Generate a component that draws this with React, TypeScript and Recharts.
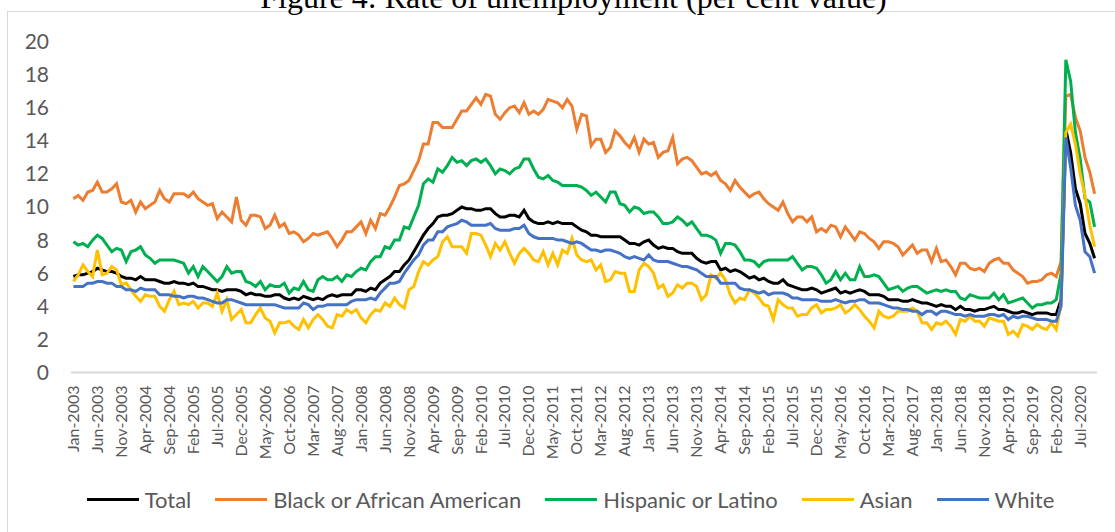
import React from 'react';
import { LineChart, Line, XAxis, YAxis, Legend } from 'recharts';

const MONTHS = ['Jan', 'Feb', 'Mar', 'Apr', 'May', 'Jun', 'Jul', 'Aug', 'Sep', 'Oct', 'Nov', 'Dec'];
const FIRST_YEAR = 2003;
const Y_TICKS = [0, 2, 4, 6, 8, 10, 12, 14, 16, 18, 20];

// monthly rates, Jan-2003 .. Oct-2020
const total = [
  5.8, 5.9, 5.9, 6.0, 6.1, 6.3, 6.2, 6.1, 6.1, 6.0, 5.8, 5.7,
  5.7, 5.6, 5.8, 5.6, 5.6, 5.6, 5.5, 5.4, 5.4, 5.5, 5.4, 5.4,
  5.3, 5.4, 5.2, 5.2, 5.1, 5.0, 5.0, 4.9, 5.0, 5.0, 5.0, 4.9,
  4.7, 4.8, 4.7, 4.7, 4.6, 4.6, 4.7, 4.7, 4.5, 4.4, 4.5, 4.4,
  4.6, 4.5, 4.4, 4.5, 4.4, 4.6, 4.7, 4.6, 4.7, 4.7, 4.7, 5.0,
  5.0, 4.9, 5.1, 5.0, 5.4, 5.6, 5.8, 6.1, 6.1, 6.5, 6.8, 7.3,
  7.8, 8.3, 8.7, 9.0, 9.4, 9.5, 9.5, 9.6, 9.8, 10.0, 9.9, 9.9,
  9.8, 9.8, 9.9, 9.9, 9.6, 9.4, 9.4, 9.5, 9.5, 9.4, 9.8, 9.3,
  9.1, 9.0, 9.0, 9.1, 9.0, 9.1, 9.0, 9.0, 9.0, 8.8, 8.6, 8.5,
  8.3, 8.3, 8.2, 8.2, 8.2, 8.2, 8.2, 8.0, 7.8, 7.8, 7.7, 7.9,
  8.0, 7.7, 7.5, 7.6, 7.5, 7.5, 7.3, 7.2, 7.2, 7.2, 6.9, 6.7,
  6.6, 6.7, 6.7, 6.2, 6.3, 6.1, 6.2, 6.1, 5.9, 5.7, 5.8, 5.6,
  5.7, 5.5, 5.4, 5.4, 5.6, 5.3, 5.2, 5.1, 5.0, 5.0, 5.1, 5.0,
  4.8, 4.9, 5.0, 5.1, 4.8, 4.9, 4.8, 4.9, 5.0, 4.9, 4.7, 4.7,
  4.7, 4.6, 4.4, 4.4, 4.4, 4.3, 4.3, 4.4, 4.3, 4.2, 4.2, 4.1,
  4.0, 4.1, 4.0, 4.0, 3.8, 4.0, 3.8, 3.8, 3.7, 3.8, 3.8, 3.9,
  4.0, 3.8, 3.8, 3.7, 3.6, 3.6, 3.7, 3.6, 3.5, 3.6, 3.6, 3.6,
  3.5, 3.5, 4.4, 14.7, 13.3, 11.1, 10.2, 8.4, 7.8, 6.9,
];

const black = [
  10.5, 10.7, 10.4, 10.9, 11.0, 11.5, 10.9, 10.9, 11.1, 11.4, 10.3, 10.2,
  10.4, 9.7, 10.3, 9.9, 10.1, 10.3, 11.0, 10.5, 10.3, 10.8, 10.8, 10.8,
  10.6, 10.9, 10.5, 10.3, 10.1, 10.2, 9.3, 9.7, 9.4, 9.1, 10.6, 9.2,
  8.9, 9.5, 9.5, 9.4, 8.7, 8.9, 9.5, 8.8, 9.0, 8.4, 8.5, 8.3,
  7.9, 8.1, 8.4, 8.3, 8.4, 8.5, 8.1, 7.6, 8.0, 8.5, 8.5, 8.8,
  9.1, 8.4, 9.2, 8.7, 9.6, 9.5, 10.0, 10.6, 11.3, 11.4, 11.6, 12.2,
  12.8, 13.8, 13.8, 15.1, 15.1, 14.8, 14.8, 14.8, 15.3, 15.8, 15.8, 16.2,
  16.6, 16.2, 16.8, 16.7, 15.6, 15.3, 15.7, 16.0, 16.1, 15.7, 16.3, 15.6,
  15.8, 15.6, 15.9, 16.5, 16.4, 16.3, 16.0, 16.5, 16.1, 14.7, 15.6, 15.5,
  13.7, 14.1, 14.1, 13.3, 13.6, 14.6, 14.3, 13.9, 13.6, 14.2, 13.3, 14.1,
  13.8, 13.9, 13.0, 13.3, 13.4, 14.2, 12.6, 12.9, 13.0, 12.8, 12.4, 12.0,
  12.1, 11.9, 12.1, 11.6, 11.4, 11.0, 11.6, 11.2, 10.9, 10.6, 10.8, 10.9,
  10.5, 10.2, 10.0, 9.8, 10.3, 9.6, 9.1, 9.4, 9.4, 9.1, 9.4, 8.5,
  8.7, 8.5, 8.9, 8.8, 8.2, 8.8, 8.4, 8.0, 8.5, 8.4, 8.1, 7.9,
  7.5, 7.9, 7.9, 7.8, 7.6, 7.1, 7.4, 7.7, 7.2, 7.4, 7.4, 6.7,
  7.5, 6.7, 6.8, 6.4, 5.9, 6.6, 6.6, 6.3, 6.2, 6.3, 6.1, 6.6,
  6.8, 6.9, 6.6, 6.6, 6.2, 6.0, 5.8, 5.4, 5.5, 5.5, 5.6, 5.9,
  6.0, 5.8, 6.7, 16.7, 16.8, 15.4, 14.6, 13.0, 12.1, 10.8,
];

const hispanic = [
  7.9, 7.7, 7.8, 7.6, 8.0, 8.3, 8.1, 7.7, 7.3, 7.5, 7.4, 6.7,
  7.3, 7.4, 7.6, 7.1, 6.9, 6.6, 6.8, 6.8, 6.8, 6.8, 6.7, 6.6,
  6.0, 6.4, 5.8, 6.4, 6.1, 5.8, 5.5, 5.8, 6.4, 6.0, 6.1, 6.1,
  5.5, 5.4, 5.2, 5.5, 5.0, 5.3, 5.2, 5.2, 5.4, 4.8, 5.1, 5.0,
  5.5, 5.0, 4.9, 5.6, 5.8, 5.6, 5.6, 5.8, 5.5, 5.9, 5.8, 6.1,
  6.3, 6.2, 6.7, 7.0, 7.0, 7.6, 7.5, 8.0, 8.0, 8.8, 8.7, 9.4,
  10.1, 11.4, 11.7, 11.5, 12.3, 12.1, 12.5, 13.0, 12.7, 12.8, 12.5, 12.8,
  12.9, 12.7, 12.9, 12.5, 12.0, 12.3, 12.2, 12.0, 12.3, 12.4, 12.9, 12.9,
  12.3, 11.8, 11.7, 11.9, 11.6, 11.5, 11.3, 11.3, 11.3, 11.3, 11.2, 11.0,
  10.7, 10.9, 10.6, 10.3, 10.9, 10.9, 10.2, 10.1, 9.7, 10.0, 9.9, 9.6,
  9.7, 9.7, 9.4, 9.0, 9.0, 9.1, 9.4, 9.2, 8.9, 9.1, 8.7, 8.3,
  8.3, 8.2, 8.0, 7.2, 7.8, 7.8, 7.7, 7.3, 6.8, 6.8, 6.7, 6.4,
  6.7, 6.8, 6.8, 6.8, 6.8, 6.8, 7.0, 6.6, 6.2, 6.4, 6.4, 6.3,
  5.9, 5.4, 5.6, 6.1, 5.6, 6.0, 5.6, 5.6, 6.4, 5.8, 5.8, 5.9,
  5.8, 5.4, 5.0, 5.1, 5.2, 4.9, 5.1, 5.2, 5.2, 5.0, 4.8, 4.9,
  5.0, 4.9, 5.0, 4.9, 4.9, 4.5, 4.4, 4.7, 4.6, 4.5, 4.5, 4.5,
  4.8, 4.4, 4.7, 4.2, 4.3, 4.4, 4.5, 4.2, 3.9, 4.1, 4.1, 4.2,
  4.2, 4.4, 6.0, 18.9, 17.6, 14.5, 12.9, 10.5, 10.3, 8.8,
];

const asian = [
  5.5, 5.9, 6.5, 6.1, 5.8, 7.4, 5.9, 6.0, 6.4, 6.2, 5.3, 5.4,
  5.0, 4.6, 4.3, 4.7, 4.6, 4.6, 4.0, 3.7, 4.4, 4.9, 4.1, 4.2,
  4.1, 4.3, 3.9, 4.2, 4.2, 4.0, 4.8, 3.7, 4.4, 3.2, 3.5, 3.8,
  3.0, 3.0, 3.5, 3.9, 3.3, 3.1, 2.4, 3.0, 3.0, 3.1, 2.8, 2.6,
  3.2, 2.7, 3.2, 3.5, 3.2, 2.8, 2.7, 3.5, 3.4, 3.8, 3.6, 3.8,
  3.3, 3.0, 3.5, 3.8, 3.7, 4.2, 4.0, 4.5, 4.1, 3.9, 5.0, 5.2,
  6.1, 6.7, 6.5, 6.8, 7.0, 7.9, 8.2, 7.6, 7.6, 7.6, 7.2, 8.4,
  8.4, 8.3, 7.7, 7.0, 7.8, 7.4, 7.9, 7.2, 6.6, 7.2, 7.5, 7.2,
  6.8, 6.7, 7.3, 6.5, 7.2, 6.5, 7.4, 7.2, 8.1, 7.1, 6.8, 6.7,
  6.8, 6.2, 6.5, 5.5, 5.6, 6.1, 6.0, 6.0, 4.9, 4.9, 6.2, 6.6,
  6.4, 6.0, 5.1, 5.3, 4.6, 4.8, 5.3, 5.1, 5.4, 5.4, 5.2, 4.4,
  4.7, 5.9, 5.7, 6.0, 5.6, 4.7, 4.2, 4.5, 4.4, 5.0, 4.8, 4.5,
  4.1, 4.0, 3.2, 4.4, 4.1, 3.9, 3.9, 3.4, 3.5, 3.5, 3.9, 4.1,
  3.6, 3.8, 3.8, 3.9, 4.1, 3.6, 3.8, 4.1, 3.8, 3.4, 3.1, 2.7,
  3.7, 3.4, 3.3, 3.4, 3.7, 3.7, 3.7, 3.9, 3.7, 3.0, 3.0, 2.6,
  3.0, 2.9, 3.1, 2.8, 2.3, 3.2, 3.1, 3.4, 3.1, 3.1, 2.8, 3.3,
  3.2, 3.1, 3.1, 2.3, 2.5, 2.2, 2.9, 2.8, 2.6, 2.9, 2.7, 2.6,
  3.0, 2.6, 4.1, 14.5, 15.0, 13.8, 12.0, 10.7, 8.9, 7.6,
];

const white = [
  5.2, 5.2, 5.2, 5.4, 5.4, 5.5, 5.5, 5.4, 5.4, 5.2, 5.2, 5.0,
  5.0, 4.9, 5.1, 5.0, 5.0, 5.0, 4.7, 4.7, 4.7, 4.6, 4.6, 4.5,
  4.6, 4.6, 4.5, 4.5, 4.4, 4.3, 4.2, 4.2, 4.4, 4.4, 4.3, 4.2,
  4.1, 4.1, 4.1, 4.1, 4.1, 4.1, 4.1, 4.0, 3.9, 3.9, 3.9, 3.9,
  4.2, 4.1, 3.8, 4.0, 4.0, 4.1, 4.1, 4.1, 4.1, 4.1, 4.3, 4.4,
  4.4, 4.4, 4.5, 4.4, 4.8, 5.1, 5.4, 5.4, 5.5, 6.0, 6.4, 6.8,
  7.1, 7.7, 8.0, 8.0, 8.5, 8.5, 8.8, 8.9, 9.0, 9.2, 9.1, 8.9,
  8.9, 8.9, 8.9, 9.0, 8.7, 8.6, 8.6, 8.6, 8.7, 8.7, 8.9, 8.4,
  8.2, 8.1, 8.1, 8.1, 8.1, 8.0, 8.0, 7.9, 7.8, 7.9, 7.8, 7.6,
  7.4, 7.4, 7.3, 7.4, 7.4, 7.3, 7.2, 7.0, 6.9, 7.0, 6.9, 6.8,
  7.1, 6.8, 6.7, 6.7, 6.7, 6.6, 6.5, 6.4, 6.4, 6.3, 6.2, 6.0,
  5.8, 5.8, 5.8, 5.4, 5.4, 5.4, 5.4, 5.1, 5.0, 5.0, 4.9, 4.8,
  4.9, 4.7, 4.8, 4.8, 4.8, 4.7, 4.5, 4.5, 4.4, 4.4, 4.4, 4.4,
  4.3, 4.3, 4.3, 4.4, 4.3, 4.2, 4.3, 4.3, 4.4, 4.4, 4.2, 4.2,
  4.2, 4.1, 4.0, 3.9, 3.9, 3.8, 3.8, 3.7, 3.7, 3.5, 3.7, 3.7,
  3.5, 3.7, 3.7, 3.6, 3.5, 3.5, 3.4, 3.5, 3.4, 3.4, 3.4, 3.5,
  3.5, 3.4, 3.5, 3.2, 3.4, 3.3, 3.4, 3.4, 3.3, 3.2, 3.2, 3.2,
  3.1, 3.1, 4.0, 14.2, 12.4, 10.1, 9.2, 7.3, 7.0, 6.0,
];

const SERIES = [
  { key: 'total', name: 'Total', color: '#000000', values: total },
  { key: 'black', name: 'Black or African American', color: '#ED7D31', values: black },
  { key: 'hispanic', name: 'Hispanic or Latino', color: '#00B050', values: hispanic },
  { key: 'asian', name: 'Asian', color: '#FFC000', values: asian },
  { key: 'white', name: 'White', color: '#4472C4', values: white },
];

const FONT = 'Lato, "Liberation Sans", sans-serif';
const TEXT_COLOR = '#595959';

const data = total.map((_, i) => {
  const row: Record<string, any> = {
    month: `${MONTHS[i % 12]}-${FIRST_YEAR + Math.floor(i / 12)}`,
  };
  SERIES.forEach(s => { row[s.key] = s.values[i]; });
  return row;
});

const MonthTick = ({ x, y, payload }: any) => (
  <text
    x={x}
    y={y}
    transform={`rotate(-90, ${x}, ${y})`}
    textAnchor="end"
    dy="0.35em"
    fontFamily={FONT}
    fontSize={16}
    fill={TEXT_COLOR}
  >
    {payload.value}
  </text>
);

const LegendRow = () => (
  <div style={{ display: 'flex', justifyContent: 'center', alignItems: 'center', fontFamily: FONT, fontSize: 22, color: TEXT_COLOR }}>
    {SERIES.map((s, i) => (
      <div key={s.key} style={{ display: 'flex', alignItems: 'center', marginLeft: i === 0 ? 0 : 24 }}>
        <span style={{ display: 'inline-block', width: 52, height: 3, background: s.color, marginRight: 6 }} />
        <span>{s.name}</span>
      </div>
    ))}
  </div>
);

export default function App() {
  return (
    <div style={{ position: 'absolute', left: 0, top: 0, width: 1115, height: 532, overflow: 'hidden', background: '#fff' }}>
      <div style={{ position: 'absolute', left: 7, top: 11, width: 1200, height: 600, border: '1px solid #d9d9d9' }} />
      <svg width={1115} height={20} style={{ position: 'absolute', left: 0, top: 0 }}>
        <text x={573.5} y={7.5} textAnchor="middle" fontFamily='"Liberation Serif", "Times New Roman", serif' fontSize={32} fill="#000">
          Figure 4: Rate of unemployment (per cent value)
        </text>
      </svg>
      <div style={{ position: 'absolute', left: 0, top: 0 }}>
        <LineChart width={1115} height={532} data={data} margin={{ top: 41.5, right: 18, bottom: 59.5, left: 0 }}>
          <XAxis
            dataKey="month"
            interval={4}
            height={100}
            padding={{ left: 2.4, right: 2.4 }}
            axisLine={{ stroke: '#d9d9d9', strokeWidth: 2 }}
            tickLine={false}
            tickSize={0}
            tickMargin={13}
            tick={<MonthTick />}
          />
          <YAxis
            width={71}
            domain={[0, 20]}
            ticks={Y_TICKS}
            axisLine={false}
            tickLine={false}
            tickSize={0}
            tickMargin={22}
            tick={{ fontFamily: FONT, fontSize: 21, fill: TEXT_COLOR }}
          />
          <Legend
            layout="horizontal"
            verticalAlign="middle"
            align="center"
            wrapperStyle={{ left: 0, top: 486, width: 1141 }}
            content={<LegendRow />}
          />
          {SERIES.map(s => (
            <Line
              key={s.key}
              dataKey={s.key}
              name={s.name}
              stroke={s.color}
              strokeWidth={3}
              dot={false}
              type="linear"
              isAnimationActive={false}
            />
          ))}
        </LineChart>
      </div>
    </div>
  );
}
